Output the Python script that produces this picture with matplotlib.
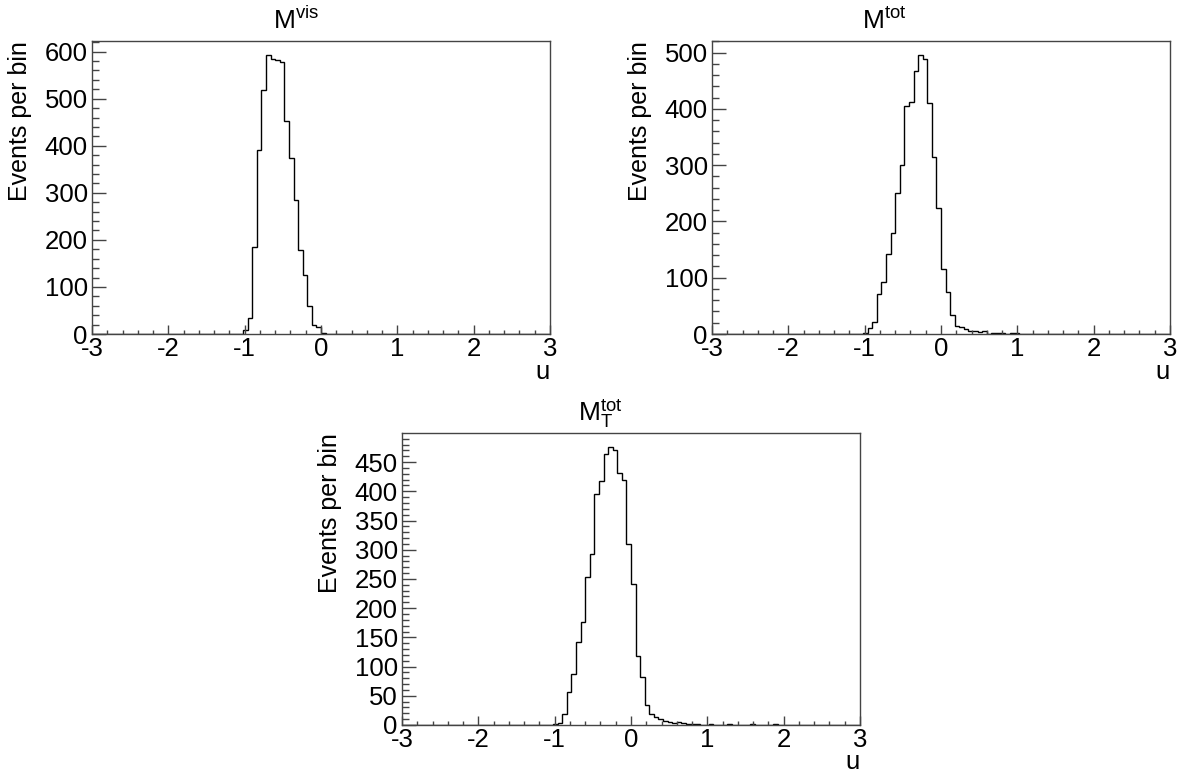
import numpy as np
import matplotlib
matplotlib.use("Agg")
import matplotlib.pyplot as plt
from matplotlib.ticker import MultipleLocator

# ============================================================
# DATA (100 bins from -3 to 3, counts)
# ============================================================

n_bins = 100
u_min, u_max = -3.0, 3.0

# counts start at bin index 33 (u = -1.02)
first_bin = 33

counts_vis = [8, 35, 184, 390, 519, 593, 584, 582, 578, 453, 374, 284,
              178, 125, 60, 19, 14, 2, 1, 1, 0, 1]

counts_tot = [2, 10, 21, 71, 92, 143, 180, 250, 301, 405, 412, 467, 496,
              488, 411, 314, 224, 116, 74, 34, 14, 12, 9, 5, 5, 4, 5, 0,
              2, 2, 1, 0, 1, 1]

counts_mt = [2, 4, 18, 57, 87, 142, 176, 253, 293, 395, 417, 464, 476,
             470, 431, 419, 309, 242, 118, 82, 34, 19, 14, 11, 7, 5, 3, 5,
             3, 2, 1, 1, 0, 0, 1, 0, 0, 0, 1, 0, 0, 0, 0, 1, 0, 0, 0, 0, 1]

titles = [r"$\mathrm{M^{vis}}$", r"$\mathrm{M^{tot}}$", r"$\mathrm{M_{T}^{tot}}$"]
y_major = [100, 100, 50]

# ============================================================
# STYLE
# ============================================================

plt.rcParams["font.family"] = ["Liberation Sans", "DejaVu Sans"]
plt.rcParams["mathtext.fontset"] = "custom"
plt.rcParams["mathtext.rm"] = "Liberation Sans"
plt.rcParams["mathtext.it"] = "Liberation Sans:italic"
plt.rcParams["axes.unicode_minus"] = False

FRAME = "#444444"


def full_hist(counts):
    h = np.zeros(n_bins)
    h[first_bin:first_bin + len(counts)] = counts
    return h


edges = np.linspace(u_min, u_max, n_bins + 1)

fig = plt.figure(figsize=(11.78, 7.73), dpi=100)

W, H = 1178, 773
# axes boxes in pixels: left, top, right, bottom
boxes = [(92, 41, 550, 334), (712, 41, 1170, 334), (402, 433, 860, 725)]
title_pos = [(296, 29), (884, 29), (600, 421)]

for counts, title, ymaj, box, tpos in zip(
        [counts_vis, counts_tot, counts_mt], titles, y_major, boxes, title_pos):
    l, t, r, b = box
    ax = fig.add_axes([l / W, 1 - b / H, (r - l) / W, (b - t) / H])
    h = full_hist(counts)
    ax.stairs(h, edges, color="black", lw=1.0)

    ax.set_xlim(u_min, u_max)
    ax.set_ylim(0, 1.05 * h.max())

    ax.xaxis.set_major_locator(MultipleLocator(1))
    ax.xaxis.set_minor_locator(MultipleLocator(0.2))
    ax.yaxis.set_major_locator(MultipleLocator(ymaj))
    ax.yaxis.set_minor_locator(MultipleLocator(ymaj / 5))

    ax.tick_params(axis="both", which="both", direction="in",
                   top=False, right=False, colors=FRAME, labelcolor="black",
                   labelsize=18.5, width=1.0)
    ax.tick_params(axis="x", which="major", length=6.5, pad=2)
    ax.tick_params(axis="x", which="minor", length=3.2)
    ax.tick_params(axis="y", which="major", length=10, pad=3)
    ax.tick_params(axis="y", which="minor", length=5)
    for s in ax.spines.values():
        s.set_color(FRAME)
        s.set_linewidth(1.0)

    ax.set_xlabel("u", loc="right", fontsize=18.5)
    ax.xaxis.set_label_coords(1.0, -0.152)
    ax.xaxis.label.set_verticalalignment("baseline")

    ax.set_ylabel("Events per bin", loc="top", fontsize=18)
    ax.yaxis.set_label_coords(-0.131, 1.0)

    fig.text(tpos[0] / W, 1 - tpos[1] / H, title, ha="center",
             va="baseline", fontsize=19)

fig.savefig("out.png", dpi=100)
